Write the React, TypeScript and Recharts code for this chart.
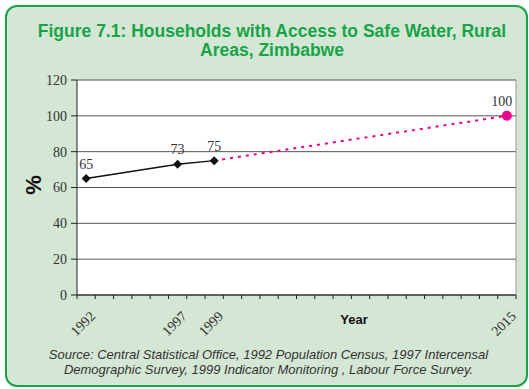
import { LineChart, Line, XAxis, YAxis, CartesianGrid, ReferenceLine } from 'recharts'

const years = [1992, 1997, 1999, 2015]
const actual = [65, 73, 75, null]
const target = [null, null, 75, 100]
const yTicks = [0, 20, 40, 60, 80, 100, 120]
const firstYear = 1992
const lastYear = 2015

const data = years.map((year, i) => ({ year, actual: actual[i], target: target[i] }))

// one tick mark on each year boundary, labels only on the survey years
const boundaries = Array.from({ length: lastYear - firstYear + 2 }, (_, i) => firstYear - 0.5 + i)
const xTicks = [...boundaries, ...years].sort((a, b) => a - b)

const serif = '"Liberation Serif", "Times New Roman", serif'
const sans = '"Liberation Sans", Arial, sans-serif'
const green = '#17a449'
const magenta = '#ec008c'

function YearTick(props: any) {
  const { x, y, payload } = props
  const v = payload.value
  if (years.includes(v)) {
    const tx = x + 10
    const ty = y + 18
    return (
      <text x={tx} y={ty} textAnchor="end" transform={`rotate(-45, ${tx}, ${ty})`}
        fontFamily={serif} fontSize={14} fill="#333">
        {v}
      </text>
    )
  }
  return <line x1={x} x2={x} y1={y - 4} y2={y} stroke="#222" strokeWidth={1} />
}

function Diamond(props: any) {
  const { cx, cy, index } = props
  if (cx == null || cy == null) return <g key={`d${index}`} />
  const r = 4.5
  return (
    <path key={`d${index}`} d={`M${cx},${cy - r}L${cx + r},${cy}L${cx},${cy + r}L${cx - r},${cy}Z`} fill="#111" />
  )
}

function TargetDot(props: any) {
  const { cx, cy, index } = props
  if (index !== years.length - 1 || cx == null) return <g key={`t${index}`} />
  return <circle key={`t${index}`} cx={cx} cy={cy} r={5} fill={magenta} />
}

function ValueLabel(props: any) {
  const { x, y, value, index } = props
  if (value == null) return null
  return (
    <text key={`l${index}`} x={x} y={y - 10} textAnchor="middle" fontFamily={serif} fontSize={14} fill="#333">
      {value}
    </text>
  )
}

function TargetLabel(props: any) {
  if (props.index !== years.length - 1) return null
  return <ValueLabel {...props} x={props.x - 5} />
}

export default function App() {
  return (
    <div style={{ position: 'absolute', left: 0, top: 0, width: 529, height: 389 }}>
      <div
        style={{
          position: 'absolute', left: 5, top: 5, width: 523, height: 382, boxSizing: 'border-box',
          border: `2.5px solid ${green}`, borderRadius: 12, background: '#d4e6d4',
        }}
      />
      <div
        style={{
          position: 'absolute', left: 12, top: 22, width: 520, textAlign: 'center', fontFamily: sans,
          fontWeight: 'bold', fontSize: 17.5, lineHeight: '19px', color: green,
        }}
      >
        Figure 7.1: Households with Access to Safe Water, Rural
        <br />
        Areas, Zimbabwe
      </div>
      <div style={{ position: 'absolute', left: 0, top: 0 }}>
        <LineChart width={529} height={389} data={data} margin={{ top: 80, right: 13, left: 37, bottom: 64 }}>
          <CartesianGrid vertical={false} stroke="#555" fill="#fff" />
          <XAxis
            dataKey="year"
            type="number"
            domain={[firstYear - 0.5, lastYear + 0.5]}
            ticks={xTicks}
            interval={0}
            tickLine={false}
            tickSize={4}
            tickMargin={0}
            tick={<YearTick />}
            axisLine={{ stroke: '#222' }}
            height={30}
          />
          <YAxis
            domain={[0, 120]}
            ticks={yTicks}
            width={40}
            tickSize={6}
            tickMargin={4}
            axisLine={{ stroke: '#222' }}
            tickLine={{ stroke: '#222' }}
            tick={{ fontFamily: serif, fontSize: 14, fill: '#333' }}
          />
          <ReferenceLine x={lastYear + 0.5} stroke="#999" />
          <Line
            dataKey="target"
            stroke={magenta}
            strokeWidth={2}
            strokeDasharray="3 5"
            dot={TargetDot}
            activeDot={false}
            label={TargetLabel}
            isAnimationActive={false}
          />
          <Line
            dataKey="actual"
            stroke="#111"
            strokeWidth={1.5}
            dot={Diamond}
            activeDot={false}
            label={ValueLabel}
            isAnimationActive={false}
          />
        </LineChart>
      </div>
      <div
        style={{
          position: 'absolute', left: 16, top: 175, width: 36, height: 20, textAlign: 'center',
          fontFamily: sans, fontWeight: 'bold', fontSize: 22, lineHeight: '20px', color: '#111',
          transform: 'rotate(-90deg)',
        }}
      >
        %
      </div>
      <div
        style={{
          position: 'absolute', left: 324, top: 312, width: 60, textAlign: 'center',
          fontFamily: sans, fontWeight: 'bold', fontSize: 13, lineHeight: '16px', color: '#111',
        }}
      >
        Year
      </div>
      <div
        style={{
          position: 'absolute', left: 5, top: 347, width: 527, textAlign: 'center', fontFamily: sans,
          fontStyle: 'italic', fontSize: 13, lineHeight: '15px', color: '#333',
        }}
      >
        Source: Central Statistical Office, 1992 Population Census, 1997 Intercensal
        <br />
        Demographic Survey, 1999 Indicator Monitoring , Labour Force Survey.
      </div>
    </div>
  )
}
